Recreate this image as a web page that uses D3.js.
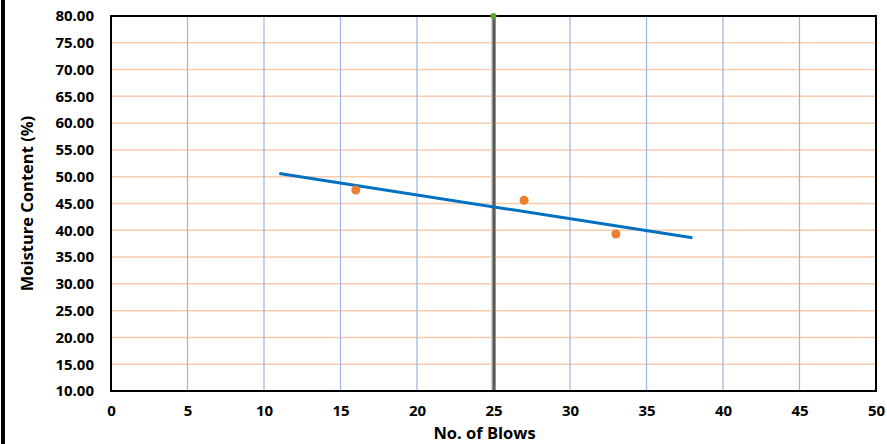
<!DOCTYPE html>
<html><head><meta charset="utf-8">
<script src="https://cdn.jsdelivr.net/npm/d3@7"></script>
<style>body{margin:0;background:#fff}svg{display:block}text{font-family:"Open Sans",sans-serif;font-weight:bold;fill:#000}</style>
</head><body>
<script>
const blows = [16, 27, 33];
const moisture = [47.5, 45.6, 39.3];
const trendX = [11, 38];
const trendY = [50.6, 38.6];
const refX = [25, 25];
const refY = [10, 80];
const xTicks = [0,5,10,15,20,25,30,35,40,45,50];
const yTicks = [10,15,20,25,30,35,40,45,50,55,60,65,70,75,80];

const W=887,H=444;
const svg=d3.select("body").append("svg").attr("width",W).attr("height",H);
const m={l:111,r:876,t:16,b:391};
const x=d3.scaleLinear().domain([0,50]).range([m.l,m.r]);
const y=d3.scaleLinear().domain([10,80]).range([m.b,m.t]);
const F="'Open Sans',sans-serif";

// left black bar
svg.append("rect").attr("x",1).attr("y",0).attr("width",4).attr("height",H).attr("fill","#000");

// gridlines
svg.append("g").selectAll("line").data(yTicks.slice(1,-1)).join("line")
  .attr("x1",m.l).attr("x2",m.r).attr("y1",d=>y(d)).attr("y2",d=>y(d))
  .attr("stroke","#f8cbad").attr("stroke-width",1.5);
svg.append("g").selectAll("line").data(xTicks.slice(1,-1)).join("line")
  .attr("x1",d=>x(d)).attr("x2",d=>x(d)).attr("y1",m.t).attr("y2",m.b)
  .attr("stroke","#9db3e3").attr("stroke-width",1.2);

// axes (labels only)
const ya=svg.append("g").attr("transform",`translate(${m.l},0)`).call(d3.axisLeft(y).tickValues(yTicks).tickFormat(d3.format(".2f")).tickSize(0).tickPadding(17));
ya.select(".domain").remove();
ya.selectAll("text").attr("font-size",15).attr("font-family",F).attr("font-weight","bold");
const xa=svg.append("g").attr("transform",`translate(0,${m.b})`).call(d3.axisBottom(x).tickValues(xTicks).tickFormat(d3.format("d")).tickSize(0).tickPadding(14));
xa.select(".domain").remove();
xa.selectAll("text").attr("font-size",15).attr("font-family",F).attr("font-weight","bold");

// reference vertical line
const line=d3.line().x(d=>x(d[0])).y(d=>y(d[1]));
svg.append("path").attr("d",line(d3.zip(refX,refY))).attr("stroke","#d0d0d0").attr("stroke-width",5).attr("fill","none");
svg.append("path").attr("d",line(d3.zip(refX,refY))).attr("stroke","#595959").attr("stroke-width",3).attr("fill","none").attr("transform","translate(0.5,0)");

// border
svg.append("rect").attr("x",m.l).attr("y",m.t).attr("width",m.r-m.l).attr("height",m.b-m.t)
  .attr("fill","none").attr("stroke","#000").attr("stroke-width",2);

svg.append("circle").attr("cx",x(refX[1])).attr("cy",y(refY[1])).attr("r",3).attr("fill","#5fa33a");

// trendline
svg.append("path").attr("d",line(d3.zip(trendX,trendY))).attr("stroke","#0070c0").attr("stroke-width",3).attr("fill","none");

// points
svg.append("g").selectAll("circle").data(d3.zip(blows,moisture)).join("circle")
  .attr("cx",d=>x(d[0])).attr("cy",d=>y(d[1])).attr("r",4.5).attr("fill","#ed7d31");

// titles
svg.append("text").attr("x",(m.l+m.r)/2-9).attr("y",439).attr("text-anchor","middle").attr("font-size",16.5).text("No. of Blows");
svg.append("text").attr("transform",`translate(33,${(m.t+m.b)/2}) rotate(-90)`).attr("text-anchor","middle").attr("font-size",16.5).text("Moisture Content (%)");
</script>
</body></html>
